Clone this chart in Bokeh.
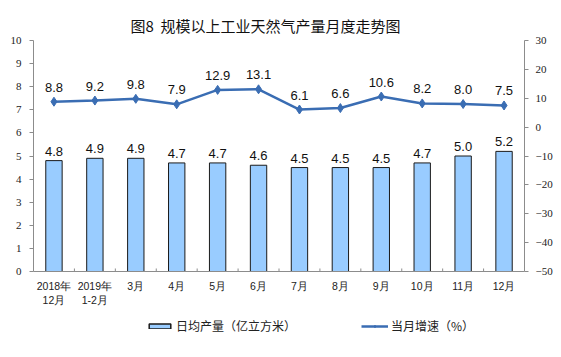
from bokeh.plotting import figure
from bokeh.layouts import column
from bokeh.models import (Range1d, LinearAxis, Legend, LegendItem, ColumnDataSource,
                          FactorRange, FixedTicker)
from bokeh.core.properties import value
from bokeh.embed import file_html
from bokeh.resources import INLINE

categories = ["2018年\n12月", "2019年\n1-2月", "3月", "4月", "5月", "6月",
              "7月", "8月", "9月", "10月", "11月", "12月"]
daily_output = [4.8, 4.9, 4.9, 4.7, 4.7, 4.6, 4.5, 4.5, 4.5, 4.7, 5.0, 5.2]
growth = [8.8, 9.2, 9.8, 7.9, 12.9, 13.1, 6.1, 6.6, 10.6, 8.2, 8.0, 7.5]
left_ticks = list(range(0, 11))
right_ticks = list(range(-50, 31, 10))
bar_name = "日均产量（亿立方米）"
line_name = "当月增速（%）"

BAR_FILL = "#99CCFF"
BAR_LINE = "#1a1a1a"
LINE_COL = "#3A6DB3"

src = ColumnDataSource(dict(
    cat=categories, out=daily_output, gr=growth,
    out_lbl=["%.1f" % v for v in daily_output],
    gr_lbl=["%.1f" % v for v in growth],
))

p = figure(width=561, height=316, x_range=FactorRange(*categories),
           y_range=Range1d(0, 10), output_backend="svg", toolbar_location=None,
           min_border_left=33, min_border_right=37, min_border_top=40,
           min_border_bottom=45)
p.outline_line_color = None
p.grid.visible = False
p.background_fill_color = "white"
p.border_fill_color = "white"

p.title.text = "图8\u00a0\u00a0规模以上工业天然气产量月度走势图"
p.title.text_font = "Noto Sans CJK SC"
p.title.text_font_size = "15px"
p.title.text_font_style = "normal"
p.title.align = "left"
p.title.offset = 97
p.title.text_color = "#111111"
p.title.standoff = 10

p.extra_y_ranges = {"right": Range1d(-50, 30)}

axis_color = "#8c8c8c"
yl = p.yaxis[0]
yl.ticker = FixedTicker(ticks=left_ticks)
yl.axis_line_color = axis_color
yl.major_tick_line_color = axis_color
yl.major_tick_out = 4
yl.major_tick_in = 0
yl.minor_tick_line_color = None
yl.major_label_text_font = "Liberation Serif"
yl.major_label_text_font_size = "11px"
yl.major_label_text_color = "#222222"
yl.major_label_standoff = 8

yr = LinearAxis(y_range_name="right", ticker=FixedTicker(ticks=right_ticks))
yr.axis_line_color = axis_color
yr.major_tick_line_color = axis_color
yr.major_tick_out = 4
yr.major_tick_in = 0
yr.minor_tick_line_color = None
yr.major_label_text_font = "Liberation Serif"
yr.major_label_text_font_size = "11px"
yr.major_label_text_color = "#222222"
yr.major_label_standoff = 7
p.add_layout(yr, "right")

xa = p.xaxis[0]
xa.axis_line_color = axis_color
xa.major_tick_line_color = None
xa.major_label_text_font = "Liberation Sans"
xa.major_label_text_font_size = "10.5px"
xa.major_label_text_color = "#222222"
xa.major_label_standoff = 2

# small inward ticks at category boundaries
bounds = list(range(1, len(categories)))
p.segment(x0=bounds, x1=bounds, y0=[0] * len(bounds), y1=[0.13] * len(bounds),
          line_color=axis_color, line_width=1)

p.vbar(x="cat", top="out", width=0.4, source=src, fill_color=BAR_FILL,
       line_color=BAR_LINE, line_width=1)
p.text(x="cat", y="out", text="out_lbl", source=src, text_align="center",
       text_baseline="bottom", y_offset=-5, text_font=value("Liberation Sans"),
       text_font_size="13px", text_color="#111111")

p.line(x="cat", y="gr", source=src, y_range_name="right",
       line_color=LINE_COL, line_width=2.5)
p.scatter(x="cat", y="gr", source=src, y_range_name="right", marker="diamond",
          size=9, fill_color=LINE_COL, line_color=LINE_COL)
p.text(x="cat", y="gr", text="gr_lbl", source=src, y_range_name="right",
       text_align="center", text_baseline="bottom", y_offset=-10,
       text_font=value("Liberation Sans"), text_font_size="13px", text_color="#111111")

# legend strip below the chart (proxy renderers hold no visible data)
lf = figure(width=561, height=41, x_range=Range1d(0, 1), y_range=Range1d(0, 1),
            output_backend="svg", toolbar_location=None,
            x_axis_location=None, y_axis_location=None,
            min_border=0, min_border_left=0, min_border_right=0,
            min_border_top=0, min_border_bottom=0)
lf.outline_line_color = None
lf.grid.visible = False
nan = float("nan")
proxy = ColumnDataSource(dict(x=[nan], y=[nan], top=[nan]))
lb = lf.vbar(x="x", top="top", width=0.1, source=proxy, fill_color=BAR_FILL,
             line_color=BAR_LINE, line_width=1.5)
ll = lf.line(x="x", y="y", source=proxy, line_color=LINE_COL, line_width=2.5)
lm = lf.scatter(x="x", y="y", source=proxy, marker="diamond", size=9,
                fill_color=LINE_COL, line_color=LINE_COL)

def add_leg(items, loc):
    lg = Legend(items=items, location=loc, orientation="horizontal",
                border_line_color=None, background_fill_alpha=0, padding=0, margin=0,
                label_text_font="Noto Sans CJK SC", label_text_font_size="12px",
                label_text_color="#222222", glyph_width=27, glyph_height=6,
                label_standoff=3, label_height=14)
    lf.add_layout(lg, "center")

add_leg([LegendItem(label=bar_name, renderers=[lb])], (113, 23))
add_leg([LegendItem(label=line_name, renderers=[ll, lm])], (328, 23))

open("out.html", "w").write(file_html(column(p, lf, spacing=0), INLINE))
